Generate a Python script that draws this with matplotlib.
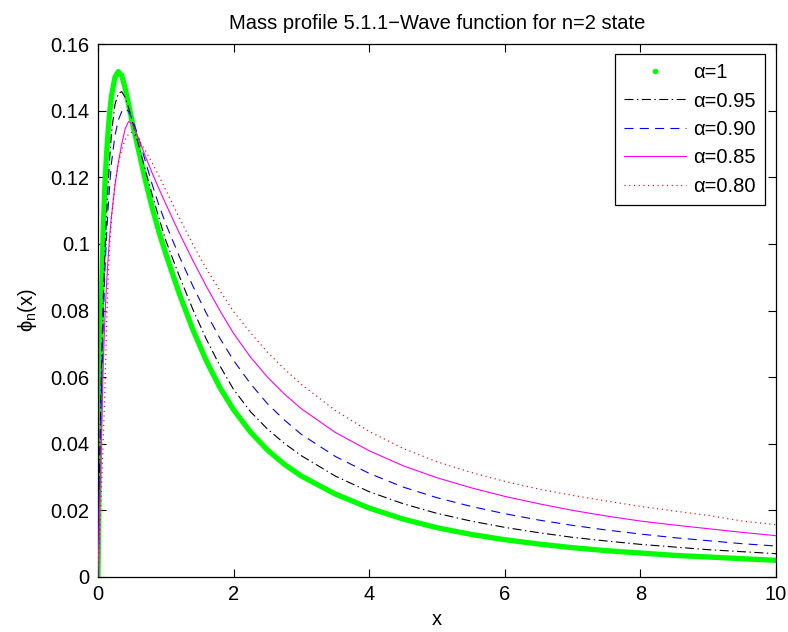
import matplotlib
matplotlib.use("Agg")
import matplotlib.pyplot as plt
from matplotlib.lines import Line2D

plt.rcParams['font.family'] = ['Liberation Sans', 'DejaVu Sans']
plt.rcParams['mathtext.fontset'] = 'custom'
plt.rcParams['mathtext.rm'] = 'Liberation Sans'
plt.rcParams['lines.scale_dashes'] = False

# ---- data ----
x = [0, 0.025, 0.05, 0.075, 0.1, 0.125, 0.15, 0.175, 0.2, 0.25, 0.3, 0.35, 0.4, 0.45, 0.5,
     0.6, 0.7, 0.8, 0.9, 1.0, 1.2, 1.4, 1.6, 1.8, 2.0, 2.25, 2.5, 2.75, 3.0, 3.5, 4.0,
     4.5, 5.0, 5.5, 6.0, 6.5, 7.0, 7.5, 8.0, 8.5, 9.0, 9.5, 10.0]

phi_a100 = [0, 0.045, 0.080, 0.103, 0.117, 0.1265, 0.134, 0.1400, 0.1445, 0.1500, 0.1517,
            0.1505, 0.1468, 0.1420, 0.1370, 0.1280, 0.1190, 0.1108, 0.1035, 0.0970, 0.0850,
            0.0742, 0.0648, 0.0568, 0.0502, 0.0435, 0.0381, 0.0338, 0.0303, 0.0249, 0.0207,
            0.0174, 0.0148, 0.0128, 0.0112, 0.0099, 0.0088, 0.0079, 0.0072, 0.0065, 0.0060,
            0.0055, 0.0050]
phi_a095 = [0, 0.035, 0.062, 0.082, 0.096, 0.108, 0.118, 0.1265, 0.1335, 0.1418, 0.1452,
            0.1457, 0.1440, 0.1410, 0.1372, 0.1295, 0.1220, 0.1147, 0.1077, 0.1010, 0.0903,
            0.0803, 0.0713, 0.0633, 0.0563, 0.0496, 0.0444, 0.0401, 0.0364, 0.0303, 0.0256,
            0.0220, 0.0191, 0.0168, 0.0149, 0.0133, 0.0119, 0.0108, 0.0098, 0.0090, 0.0082,
            0.0076, 0.0070]
phi_a090 = [0, 0.028, 0.055, 0.075, 0.091, 0.102, 0.111, 0.1185, 0.1245, 0.1325, 0.1372,
            0.1397, 0.1406, 0.1398, 0.1378, 0.1318, 0.1247, 0.1178, 0.1115, 0.1060, 0.0962,
            0.0873, 0.0791, 0.0716, 0.0650, 0.0580, 0.0520, 0.0471, 0.0428, 0.0362, 0.0311,
            0.0270, 0.0238, 0.0212, 0.0190, 0.0171, 0.0155, 0.0141, 0.0129, 0.0118, 0.0109,
            0.0100, 0.0093]
phi_a085 = [0, 0.022, 0.042, 0.062, 0.077, 0.0875, 0.096, 0.1030, 0.1085, 0.1175, 0.1245,
            0.1300, 0.1345, 0.1367, 0.1362, 0.1315, 0.1262, 0.1212, 0.1165, 0.1120, 0.1032,
            0.0950, 0.0872, 0.0799, 0.0731, 0.0660, 0.0600, 0.0549, 0.0505, 0.0434, 0.0379,
            0.0334, 0.0298, 0.0268, 0.0242, 0.0220, 0.0200, 0.0183, 0.0168, 0.0156, 0.0145,
            0.0134, 0.0124]
phi_a080 = [0, 0.012, 0.026, 0.040, 0.055, 0.074, 0.090, 0.1005, 0.1080, 0.1180, 0.1240,
            0.1283, 0.1312, 0.1330, 0.1335, 0.1312, 0.1280, 0.1243, 0.1203, 0.1162, 0.1078,
            0.0998, 0.0925, 0.0859, 0.0797, 0.0733, 0.0675, 0.0624, 0.0578, 0.0500, 0.0437,
            0.0386, 0.0346, 0.0314, 0.0287, 0.0264, 0.0245, 0.0228, 0.0212, 0.0198, 0.0185,
            0.0168, 0.0157]

labels = ['\u03b1=1', '\u03b1=0.95', '\u03b1=0.90', '\u03b1=0.85', '\u03b1=0.80']
xticks = [0, 2, 4, 6, 8, 10]
yticks = [0, 0.02, 0.04, 0.06, 0.08, 0.10, 0.12, 0.14, 0.16]
ytick_labels = ['0', '0.02', '0.04', '0.06', '0.08', '0.1', '0.12', '0.14', '0.16']

# ---- figure ----
fig = plt.figure(figsize=(7.88, 6.32), dpi=100)
ax = fig.add_axes([98/788, 55/632, (776-98)/788, (577-44)/632])

FS = 14.5
DASHDOT = (6.5, 2.5, 1, 2.5)
DASHED = (6.5, 4.5)
DOTTED = (0.8, 2.6)
ax.plot(x, phi_a100, color='#00ff00', lw=3.8, solid_capstyle='round',
        solid_joinstyle='round', zorder=2)
ax.plot(x, phi_a095, color='black', lw=0.8, dashes=DASHDOT, zorder=3)
ax.plot(x, phi_a090, color='blue', lw=0.8, dashes=DASHED, zorder=3)
ax.plot(x, phi_a085, color='magenta', lw=0.8, zorder=3)
ax.plot(x, phi_a080, color='red', lw=0.9, dashes=DOTTED, zorder=3)

handles = [
    Line2D([], [], color='#00ff00', marker='.', markersize=6, linestyle='none'),
    Line2D([], [], color='black', lw=0.8, dashes=DASHDOT),
    Line2D([], [], color='blue', lw=0.8, dashes=DASHED),
    Line2D([], [], color='magenta', lw=0.8),
    Line2D([], [], color='red', lw=0.9, dashes=DOTTED),
]
leg = ax.legend(handles, labels, loc='upper right', fontsize=FS, handlelength=3.1,
                handletextpad=0.35, labelspacing=0.47, borderpad=0.45, borderaxespad=0,
                fancybox=False, framealpha=1, edgecolor='black',
                bbox_to_anchor=((765-98)/678, (577-54)/533))
leg.get_frame().set_linewidth(0.9)

ax.set_xlim(0, 10)
ax.set_ylim(0, 0.16)
ax.set_xticks(xticks)
ax.set_xticklabels([str(t) for t in xticks])
ax.set_yticks(yticks)
ax.set_yticklabels(ytick_labels)
ax.tick_params(direction='in', length=6, width=0.8, top=True, right=True,
               labelsize=FS, pad=6)
for s in ax.spines.values():
    s.set_linewidth(0.9)

ax.set_title('Mass profile 5.1.1\u2212Wave function for n=2 state', fontsize=FS, pad=11)
ax.set_xlabel('x', fontsize=FS, labelpad=4)
ax.set_ylabel('\u03d5$_\\mathregular{n}$(x)', fontsize=FS, labelpad=8)

fig.savefig('out.png', dpi=100)
